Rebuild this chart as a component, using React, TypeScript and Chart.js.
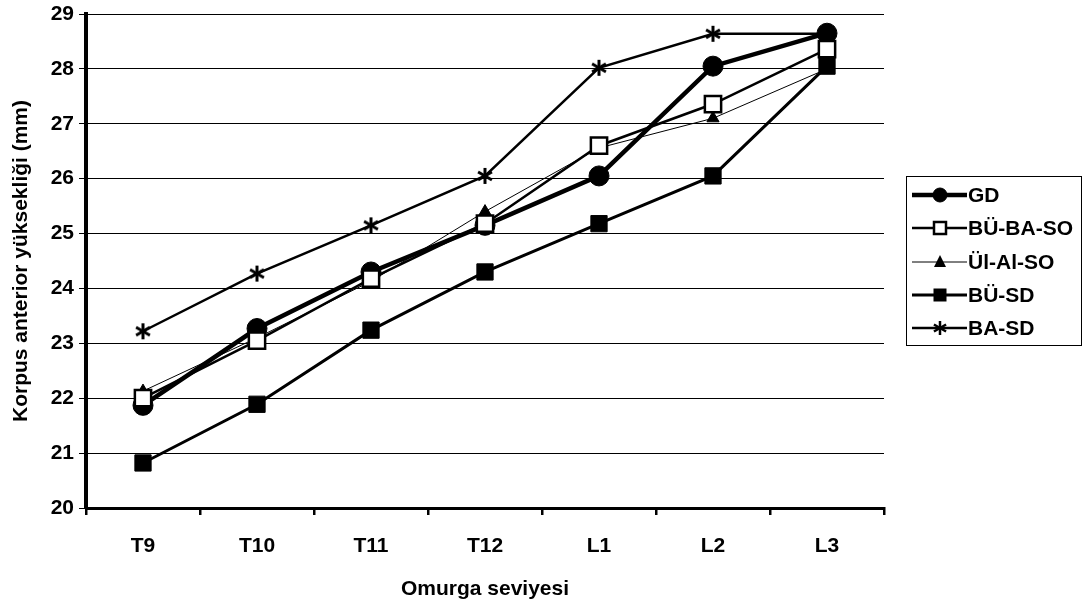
import React, { useEffect, useRef } from "react";
import { Chart, registerables } from "chart.js";

Chart.register(...registerables);

const categories = ["T9", "T10", "T11", "T12", "L1", "L2", "L3"];
const gd = [21.87, 23.27, 24.3, 25.15, 26.05, 28.05, 28.65];
const buBaSo = [22.0, 23.05, 24.18, 25.18, 26.6, 27.36, 28.36];
const ulAlSo = [22.13, 23.1, 24.13, 25.4, 26.56, 27.1, 28.0];
const buSd = [20.82, 21.89, 23.24, 24.3, 25.18, 26.05, 28.05];
const baSd = [23.22, 24.27, 25.15, 26.05, 28.02, 28.64, 28.64];
const seriesNames = ["GD", "BÜ-BA-SO", "Ül-Al-SO", "BÜ-SD", "BA-SD"];
const yTitle = "Korpus anterior yüksekliği (mm)";
const xTitle = "Omurga seviyesi";

const FONT = "'Liberation Sans', Arial, sans-serif";
const FSIZE = 21;

function makeAsterisk(r: number, lw: number): HTMLCanvasElement {
  const c = document.createElement("canvas");
  const s = Math.ceil(r * 2 + 4);
  c.width = s;
  c.height = s;
  const g = c.getContext("2d")!;
  g.strokeStyle = "#000";
  g.lineWidth = lw;
  const cx = s / 2, cy = s / 2;
  for (const a of [90, 30, 150]) {
    const rad = (a * Math.PI) / 180;
    g.beginPath();
    g.moveTo(cx - r * Math.cos(rad), cy - r * Math.sin(rad));
    g.lineTo(cx + r * Math.cos(rad), cy + r * Math.sin(rad));
    g.stroke();
  }
  return c;
}

export default function App() {
  const ref = useRef<HTMLCanvasElement | null>(null);
  useEffect(() => {
    document.body.style.margin = "0";
    const star = makeAsterisk(8, 3);
    const legendStar = makeAsterisk(7, 2.5);
    const legendPlugin = {
      id: "customLegend",
      afterDraw(chart: any) {
        const ctx = chart.ctx;
        ctx.save();
        const bx = 906, by = 176, bw = 175, bh = 169;
        ctx.strokeStyle = "#000";
        ctx.lineWidth = 1;
        ctx.strokeRect(bx + 0.5, by + 0.5, bw, bh);
        const ys = [195, 228, 262, 295, 328];
        const mx = 940;
        chart.data.datasets.forEach((ds: any, i: number) => {
          const y = ys[i];
          ctx.strokeStyle = "#000";
          ctx.lineWidth = ds.borderWidth;
          ctx.beginPath();
          ctx.moveTo(912, y);
          ctx.lineTo(967, y);
          ctx.stroke();
          ctx.fillStyle = ds.pointBackgroundColor;
          ctx.strokeStyle = "#000";
          ctx.lineWidth = ds.pointBorderWidth;
          if (i === 0) {
            ctx.beginPath();
            ctx.arc(mx, y, 7, 0, Math.PI * 2);
            ctx.fill();
            ctx.stroke();
          } else if (i === 1 || i === 3) {
            const s = 12;
            ctx.fillRect(mx - s / 2, y - s / 2, s, s);
            ctx.strokeRect(mx - s / 2, y - s / 2, s, s);
          } else if (i === 2) {
            ctx.beginPath();
            ctx.moveTo(mx, y - 7);
            ctx.lineTo(mx + 6, y + 5);
            ctx.lineTo(mx - 6, y + 5);
            ctx.closePath();
            ctx.fill();
          } else {
            ctx.drawImage(legendStar, mx - legendStar.width / 2, y - legendStar.height / 2);
          }
          ctx.fillStyle = "#000";
          ctx.font = `bold ${FSIZE}px ${FONT}`;
          ctx.textBaseline = "middle";
          ctx.textAlign = "left";
          ctx.fillText(seriesNames[i], 968, y + 1);
        });
        ctx.restore();
      },
    };

    const chart = new Chart(ref.current!, {
      type: "line",
      data: {
        labels: categories,
        datasets: [
          {
            label: seriesNames[0],
            data: gd,
            borderColor: "#000",
            borderWidth: 4.5,
            pointStyle: "circle",
            pointRadius: 10,
            pointBackgroundColor: "#000",
            pointBorderColor: "#000",
            pointBorderWidth: 1,
            order: 5,
          },
          {
            label: seriesNames[1],
            data: buBaSo,
            borderColor: "#000",
            borderWidth: 2.5,
            pointStyle: "rect",
            pointRadius: 11.5,
            pointBackgroundColor: "#fff",
            pointBorderColor: "#000",
            pointBorderWidth: 2.5,
            order: 2,
          },
          {
            label: seriesNames[2],
            data: ulAlSo,
            borderColor: "#000",
            borderWidth: 1,
            pointStyle: "triangle",
            pointRadius: 7,
            pointBackgroundColor: "#000",
            pointBorderColor: "#000",
            pointBorderWidth: 1,
            order: 4,
          },
          {
            label: seriesNames[3],
            data: buSd,
            borderColor: "#000",
            borderWidth: 3,
            pointStyle: "rect",
            pointRadius: 11.5,
            pointBackgroundColor: "#000",
            pointBorderColor: "#000",
            pointBorderWidth: 1,
            order: 3,
          },
          {
            label: seriesNames[4],
            data: baSd,
            borderColor: "#000",
            borderWidth: 2.5,
            pointStyle: star as any,
            pointRadius: 9,
            pointBackgroundColor: "#000",
            pointBorderColor: "#000",
            pointBorderWidth: 2,
            order: 1,
          },
        ],
      },
      options: {
        animation: false,
        responsive: false,
        maintainAspectRatio: false,
        layout: { padding: { top: 13, right: 199, left: 0, bottom: 0 } },
        elements: { line: { tension: 0 } },
        plugins: {
          legend: { display: false },
          tooltip: { enabled: false },
        },
        scales: {
          x: {
            type: "category",
            offset: true,
            afterFit(scale: any) {
              scale.height = 96;
              scale.paddingLeft = 0;
              scale.paddingRight = 0;
            },
            grid: {
              display: true,
              offset: true,
              drawOnChartArea: false,
              drawTicks: true,
              tickLength: 7,
              color: "#000",
              lineWidth: 2.5,
            },
            border: { display: true, color: "#000", width: 3 },
            ticks: {
              color: "#000",
              padding: 19,
              font: { family: FONT, size: FSIZE, weight: "bold" },
              maxRotation: 0,
            },
            title: {
              display: true,
              text: xTitle,
              color: "#000",
              font: { family: FONT, size: FSIZE, weight: "bold" },
              padding: { top: 0, bottom: 2 },
            },
          },
          y: {
            min: 20,
            max: 29,
            afterFit(scale: any) {
              scale.width = 86;
              scale.paddingTop = 0;
              scale.paddingBottom = 0;
            },
            grid: {
              color: "#000",
              lineWidth: 1,
              drawTicks: true,
              tickLength: 7,
            },
            border: { display: true, color: "#000", width: 4 },
            ticks: {
              stepSize: 1,
              color: "#000",
              padding: 5,
              font: { family: FONT, size: FSIZE, weight: "bold" },
            },
            title: {
              display: true,
              text: yTitle,
              color: "#000",
              font: { family: FONT, size: FSIZE, weight: "bold" },
              padding: { top: 9, bottom: 0 },
            },
          },
        },
      },
      plugins: [legendPlugin],
    } as any);
    return () => chart.destroy();
  }, []);

  return (
    <div style={{ position: "absolute", left: 0, top: 0, width: 1083, height: 604, background: "#fff" }}>
      <canvas ref={ref} width={1083} height={604} style={{ display: "block" }} />
    </div>
  );
}
